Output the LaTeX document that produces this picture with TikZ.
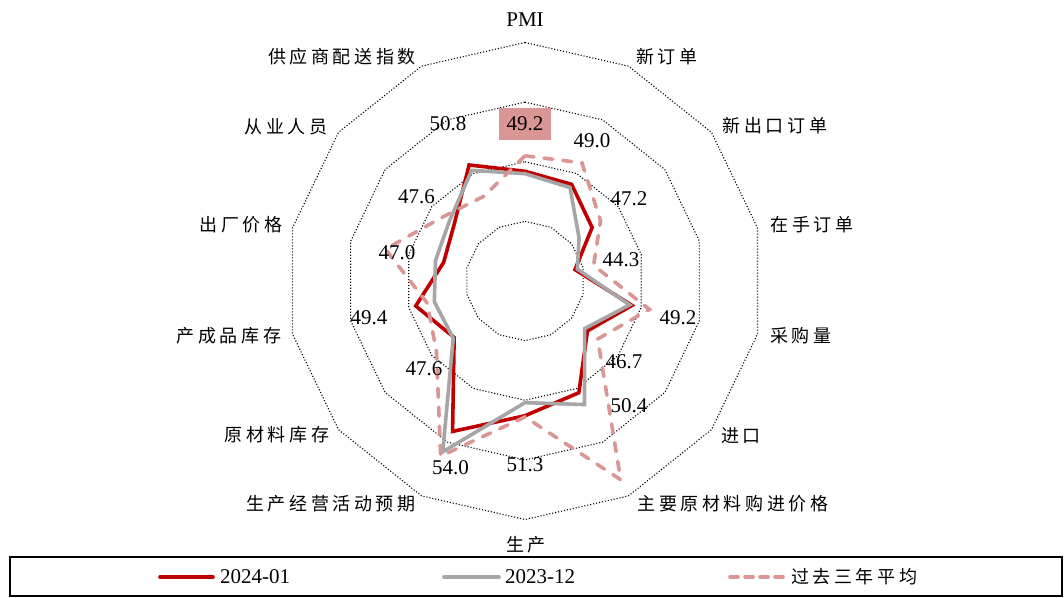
\documentclass[tikz,border=0pt]{standalone}
\usepackage{fontspec}
\setmainfont{Liberation Serif}
\newfontfamily\cjk{Noto Sans CJK SC}[LetterSpace=20]
\usetikzlibrary{calc}
\definecolor{sred}{HTML}{C00000}
\definecolor{sgray}{HTML}{A6A6A6}
\definecolor{spink}{HTML}{D99694}
\begin{document}
\begin{tikzpicture}[x=1pt,y=-1pt,
  ring/.style={black, line width=1.1pt, dash pattern=on 1.1pt off 1.9pt},
  ser/.style={line width=3.6pt, line join=miter},
  s1/.style={ser, sred},
  s2/.style={ser, sgray},
  s3/.style={ser, spink, line cap=round, dash pattern=on 9pt off 10pt},
  cat/.style={font=\fontsize{18}{18}\cjk, inner sep=0pt},
  val/.style={font=\fontsize{21}{21}\selectfont, inner sep=0pt},
]
\useasboundingbox[fill=white] (0,0) rectangle (1064,597);
\coordinate (c) at (525,281);
% rings
\foreach \k in {1,2,3,4}{
  \draw[ring] ($(c)+(-90:\k*59.625)$) \foreach \j in {1,...,13}{ -- ($(c)+(\j*360/14-90:\k*59.625)$) } -- cycle;
}
% data points
\foreach \v [count=\i from 0] in {49.2,49.0,47.2,44.3,49.2,46.7,50.4,51.3,54.0,47.6,49.4,47.0,47.6,50.8}
  \coordinate (a\i) at ($(c)+(\i*360/14-90:{(\v-40)*11.925})$);
\foreach \v [count=\i from 0] in {49.0,48.7,45.8,44.5,49.0,46.4,51.5,50.2,55.9,47.7,47.8,47.7,48.1,50.3}
  \coordinate (b\i) at ($(c)+(\i*360/14-90:{(\v-40)*11.925})$);
\foreach \v [count=\i from 0] in {50.5,51.0,48.1,45.9,50.7,47.8,58.5,51.4,56.3,49.5,48.4,52.0,48.7,47.9}
  \coordinate (p\i) at ($(c)+(\i*360/14-90:{(\v-40)*11.925})$);
\draw[s1] (a0)--(a1)--(a2)--(a3)--(a4)--(a5)--(a6)--(a7)--(a8)--(a9)--(a10)--(a11)--(a12)--(a13)--cycle;
\draw[s2] (b0)--(b1)--(b2)--(b3)--(b4)--(b5)--(b6)--(b7)--(b8)--(b9)--(b10)--(b11)--(b12)--(b13)--cycle;
\draw[s3] (p0)--(p1)--(p2)--(p3)--(p4)--(p5)--(p6)--(p7)--(p8)--(p9)--(p10)--(p11)--(p12)--(p13)--cycle;
% category labels
\node[val] (cPMI) at (525,20) {PMI};
\node[cat] (c1) at (667,57) {新订单};
\node[cat] (c2) at (775,126) {新出口订单};
\node[cat] (c3) at (812,225) {在手订单};
\node[cat] (c4) at (801,336) {采购量};
\node[cat] (c5) at (741,436) {进口};
\node[cat] (c6) at (733,504) {主要原材料购进价格};
\node[cat] (c7) at (526,545) {生产};
\node[cat] (c8) at (331,504) {生产经营活动预期};
\node[cat] (c9) at (277,435) {原材料库存};
\node[cat] (c10) at (229,336) {产成品库存};
\node[cat] (c11) at (241,225) {出厂价格};
\node[cat] (c12) at (286,127) {从业人员};
\node[cat] (c13) at (342,57) {供应商配送指数};
% value labels
\node[val, fill=spink, minimum width=52pt, minimum height=32pt] (v0) at (525,124) {49.2};
\node[val] (v1) at (592,141) {49.0};
\node[val] (v2) at (629,199) {47.2};
\node[val] (v3) at (621,260) {44.3};
\node[val] (v4) at (678,317.5) {49.2};
\node[val] (v5) at (624,362) {46.7};
\node[val] (v6) at (629,406) {50.4};
\node[val] (v7) at (525,465) {51.3};
\node[val] (v8) at (450.5,468) {54.0};
\node[val] (v9) at (424,369) {47.6};
\node[val] (v10) at (369,317.5) {49.4};
\node[val] (v11) at (397,252.5) {47.0};
\node[val] (v12) at (416.5,197) {47.6};
\node[val] (v13) at (448,123.5) {50.8};
% legend
\draw[line width=1.2pt] (10,557) rectangle (1062,596);
\coordinate (l1a) at (160,577); \coordinate (l1b) at (213,577);
\coordinate (l2a) at (444,577); \coordinate (l2b) at (499,577);
\coordinate (l3a) at (730,577); \coordinate (l3b) at (784,577);
\draw[s1, line cap=round] (l1a) -- (l1b);
\draw[s2, line cap=round] (l2a) -- (l2b);
\draw[s3, dash pattern=on 8pt off 7pt] (l3a) -- (l3b);
\node[val, anchor=west] (t1) at (220,577) {2024-01};
\node[val, anchor=west] (t2) at (505,577) {2023-12};
\node[cat, anchor=west] (t3) at (791,577) {过去三年平均};
\end{tikzpicture}
\end{document}
